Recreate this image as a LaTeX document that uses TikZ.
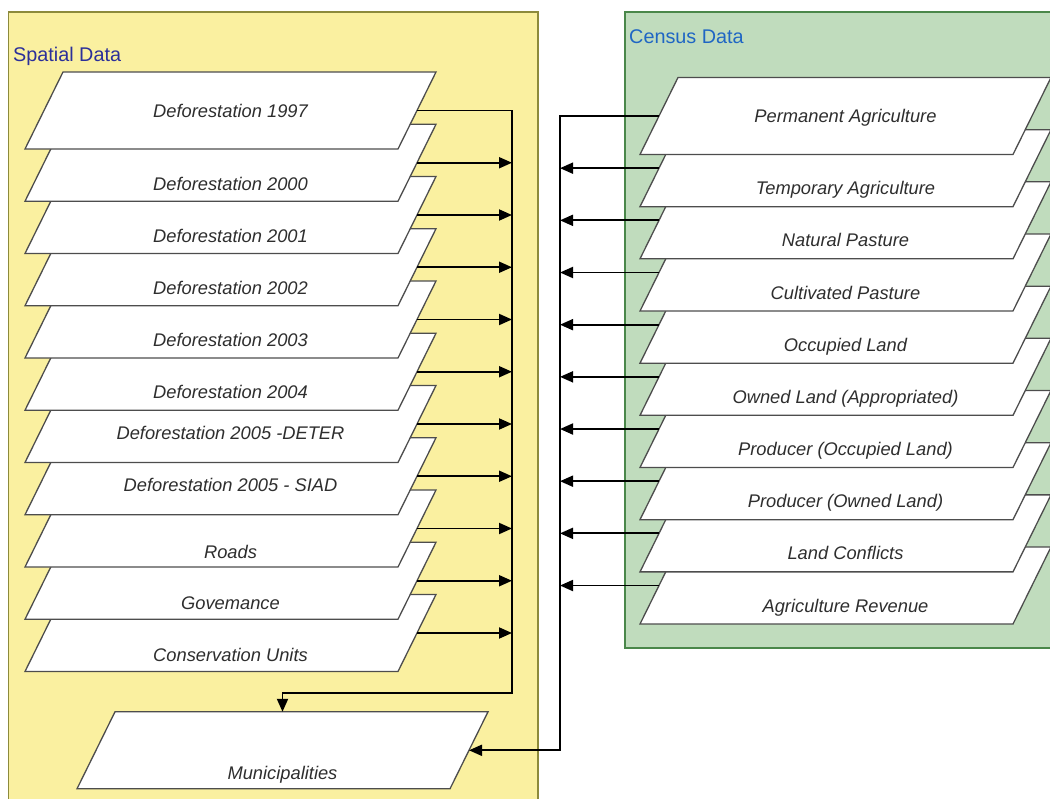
\documentclass[tikz,border=0pt]{standalone}
\usepackage{fontspec}
\setmainfont{Liberation Sans}
\usetikzlibrary{arrows.meta}

\definecolor{spatialfill}{HTML}{FAF0A0}
\definecolor{spatialrule}{HTML}{8C8A3C}
\definecolor{censusfill}{HTML}{C0DCBD}
\definecolor{censusrule}{HTML}{4A874A}
\definecolor{layerrule}{HTML}{4D4D4D}
\definecolor{layertext}{HTML}{2E2E2E}
\definecolor{spatialtitle}{HTML}{2B2F9A}
\definecolor{censustitle}{HTML}{1F66C4}

\tikzset{
  panel/.style={minimum width=#1, inner sep=0pt, outer sep=0pt, anchor=north west, line width=1.5pt},
  layer/.style={minimum width=373pt, minimum height=77pt, inner sep=0pt, outer sep=0pt},
  layeredge/.style={draw=layerrule, fill=white, line width=1.3pt},
  layerlabel/.style={font=\fontsize{18.3}{22}\selectfont\itshape, text=layertext,
    inner sep=0pt, text height=13.1pt, text depth=0pt},
  title/.style={font=\fontsize{19.8}{24}\selectfont, inner sep=0pt, anchor=base west},
  link/.style={draw=black, line width=1.9pt},
  feed/.style={link, -{Triangle[length=13pt,width=11pt]}},
}

% a slanted data layer: invisible rectangle node #1 at (#2,#3), parallelogram
% drawn around it, caption #5 lowered by #4
\newcommand\stacklayer[5]{%
  \node[layer] (#1) at (#2,#3) {};
  \path[layeredge] ([xshift=-19pt]#1.south west) -- ([xshift=-19pt]#1.south east)
    -- ([xshift=19pt]#1.north east) -- ([xshift=19pt]#1.north west) -- cycle;
  \node[layerlabel] (#1-text) at ([yshift=-#4pt]#1.center) {#5};
}

\begin{document}
\begin{tikzpicture}[x=1pt, y=-1pt]
\useasboundingbox (0,0) rectangle (1050,799);
\clip (0,0) rectangle (1050,799);
\fill[white] (0,0) rectangle (1050,799);

% panels
\node[panel=529.5pt, minimum height=800pt, draw=spatialrule, fill=spatialfill] (spatial) at (8.5,12) {};
\node[panel=440pt, minimum height=636pt, draw=censusrule, fill=censusfill] (census) at (625,12) {};
\node[title, text=spatialtitle] (spatial-title) at (13,61.5) {Spatial Data};
\node[title, text=censustitle] (census-title) at (629,44) {Census Data};

% spatial layers, lowest first
\stacklayer{d10}{230.5}{633}{22}{Conservation Units}
\stacklayer{d9}{230.5}{580.75}{22}{Govemance}
\stacklayer{d8}{230.5}{528.5}{23}{Roads}
\stacklayer{d7}{230.5}{476.25}{9}{Deforestation 2005 - SIAD}
\stacklayer{d6}{230.5}{424}{9}{Deforestation 2005 -DETER}
\stacklayer{d5}{230.5}{371.75}{20.5}{Deforestation 2004}
\stacklayer{d4}{230.5}{319.5}{20.5}{Deforestation 2003}
\stacklayer{d3}{230.5}{267.25}{21}{Deforestation 2002}
\stacklayer{d2}{230.5}{215}{21}{Deforestation 2001}
\stacklayer{d1}{230.5}{162.75}{21}{Deforestation 2000}
\stacklayer{d0}{230.5}{110.5}{0}{Deforestation 1997}

% census layers, lowest first
\stacklayer{c9}{845.5}{585.53}{20}{Agriculture Revenue}
\stacklayer{c8}{845.5}{533.36}{20}{Land Conflicts}
\stacklayer{c7}{845.5}{481.19}{20}{Producer (Owned Land)}
\stacklayer{c6}{845.5}{429.02}{20}{Producer (Occupied Land)}
\stacklayer{c5}{845.5}{376.85}{20}{Owned Land (Appropriated)}
\stacklayer{c4}{845.5}{324.68}{20}{Occupied Land}
\stacklayer{c3}{845.5}{272.51}{20}{Cultivated Pasture}
\stacklayer{c2}{845.5}{220.34}{20}{Natural Pasture}
\stacklayer{c1}{845.5}{168.17}{20}{Temporary Agriculture}
\stacklayer{c0}{845.5}{116}{0}{Permanent Agriculture}

% target layer
\stacklayer{muni}{282.5}{750.3}{22.4}{Municipalities}

% collector lines
\coordinate (lbus) at (512,0);
\coordinate (rbus) at (560,0);
\coordinate (lturn) at (512,692.7);

\draw[feed] (d0.east) -| (lturn) -| (muni.north);
\foreach \k in {1,...,10}{\draw[feed] (d\k.east) -- (d\k.east -| lbus);}

\draw[feed] (c0.west) -- (c0.west -| rbus) |- (muni.east);
\foreach \k in {1,...,9}{\draw[feed] (c\k.west) -- (c\k.west -| rbus);}
\end{tikzpicture}
\end{document}
